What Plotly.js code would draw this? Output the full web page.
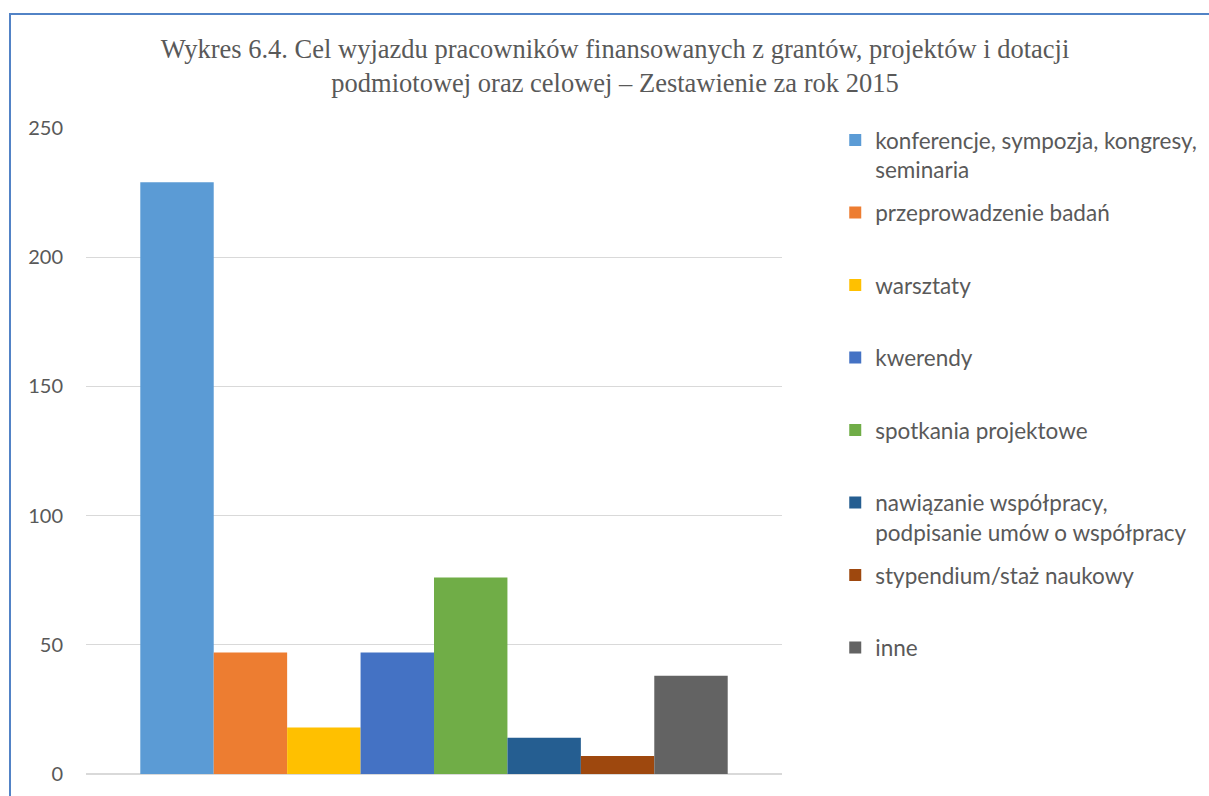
<!DOCTYPE html>
<html>
<head>
<meta charset="utf-8">
<script src="https://cdn.plot.ly/plotly-3.0.1.min.js"></script>
<style>
html,body{margin:0;padding:0;background:#fff;}
#chart{position:absolute;left:0;top:0;width:1209px;height:796px;}
#frame{position:absolute;left:9px;top:13px;width:1300px;height:900px;border-top:2px solid #5283c6;border-left:2px solid #5283c6;pointer-events:none;}
</style>
</head>
<body>
<div id="chart"></div>
<div id="frame"></div>
<script>
const titleText = "Wykres 6.4. Cel wyjazdu pracowników finansowanych z grantów, projektów i dotacji<br>podmiotowej oraz celowej – Zestawienie za rok 2015";
const categories = ["2015"];
const seriesNames = [
  "konferencje, sympozja, kongresy,<br>seminaria",
  "przeprowadzenie badań",
  "warsztaty",
  "kwerendy",
  "spotkania projektowe",
  "nawiązanie współpracy,<br>podpisanie umów o współpracy",
  "stypendium/staż naukowy",
  "inne"
];
const seriesValues = [229, 47, 18, 47, 76, 14, 7, 38];
const seriesColors = ["#5B9BD5", "#ED7D31", "#FFC000", "#4472C4", "#70AD47", "#255E91", "#9E480E", "#636363"];
const yTicks = [0, 50, 100, 150, 200, 250];

const traces = seriesNames.map((name, i) => {
  const label = name.indexOf("<br>") >= 0 ? name : name + "<br>\u00a0";
  return {
    type: "bar",
    x: categories,
    y: [seriesValues[i]],
    name: label,
    legendgroup: "g" + i,
    marker: {color: seriesColors[i], line: {width: 0}},
    hoverinfo: "y+name"
  };
});

const layout = {
  width: 1209,
  height: 796,
  paper_bgcolor: "#ffffff",
  plot_bgcolor: "#ffffff",
  margin: {l: 86, r: 427, t: 128, b: 22, pad: 0, autoexpand: false},
  barmode: "group",
  bargap: 0.156,
  bargroupgap: 0,
  showlegend: true,
  title: {
    text: titleText,
    font: {family: "Liberation Serif, Times New Roman, serif", size: 26.5, color: "#595959"},
    x: 0.5087, xref: "container", xanchor: "center",
    y: 0.9275, yref: "container", yanchor: "middle"
  },
  xaxis: {
    showticklabels: false,
    showgrid: false,
    zeroline: false,
    showline: false,
    ticks: ""
  },
  yaxis: {
    range: [0, 250],
    tickvals: yTicks,
    ticktext: yTicks.map(String),
    showgrid: true,
    gridcolor: "#d9d9d9",
    gridwidth: 1.3,
    zeroline: true,
    zerolinecolor: "#d9d9d9",
    zerolinewidth: 1.3,
    showline: false,
    ticks: "",
    ticklabelstandoff: 22,
    tickfont: {family: "Lato, Open Sans, sans-serif", size: 20, color: "#595959"}
  },
  legend: {
    x: 1.0765, xanchor: "left",
    y: 1.014, yanchor: "top",
    valign: "top",
    traceorder: "grouped",
    tracegroupgap: 11,
    maxheight: 780,
    font: {family: "Lato, Open Sans, sans-serif", size: 22.5, color: "#595959"},
    bgcolor: "rgba(0,0,0,0)"
  }
};

Plotly.newPlot("chart", traces, layout, {displayModeBar: false, staticPlot: true});
</script>
</body>
</html>
